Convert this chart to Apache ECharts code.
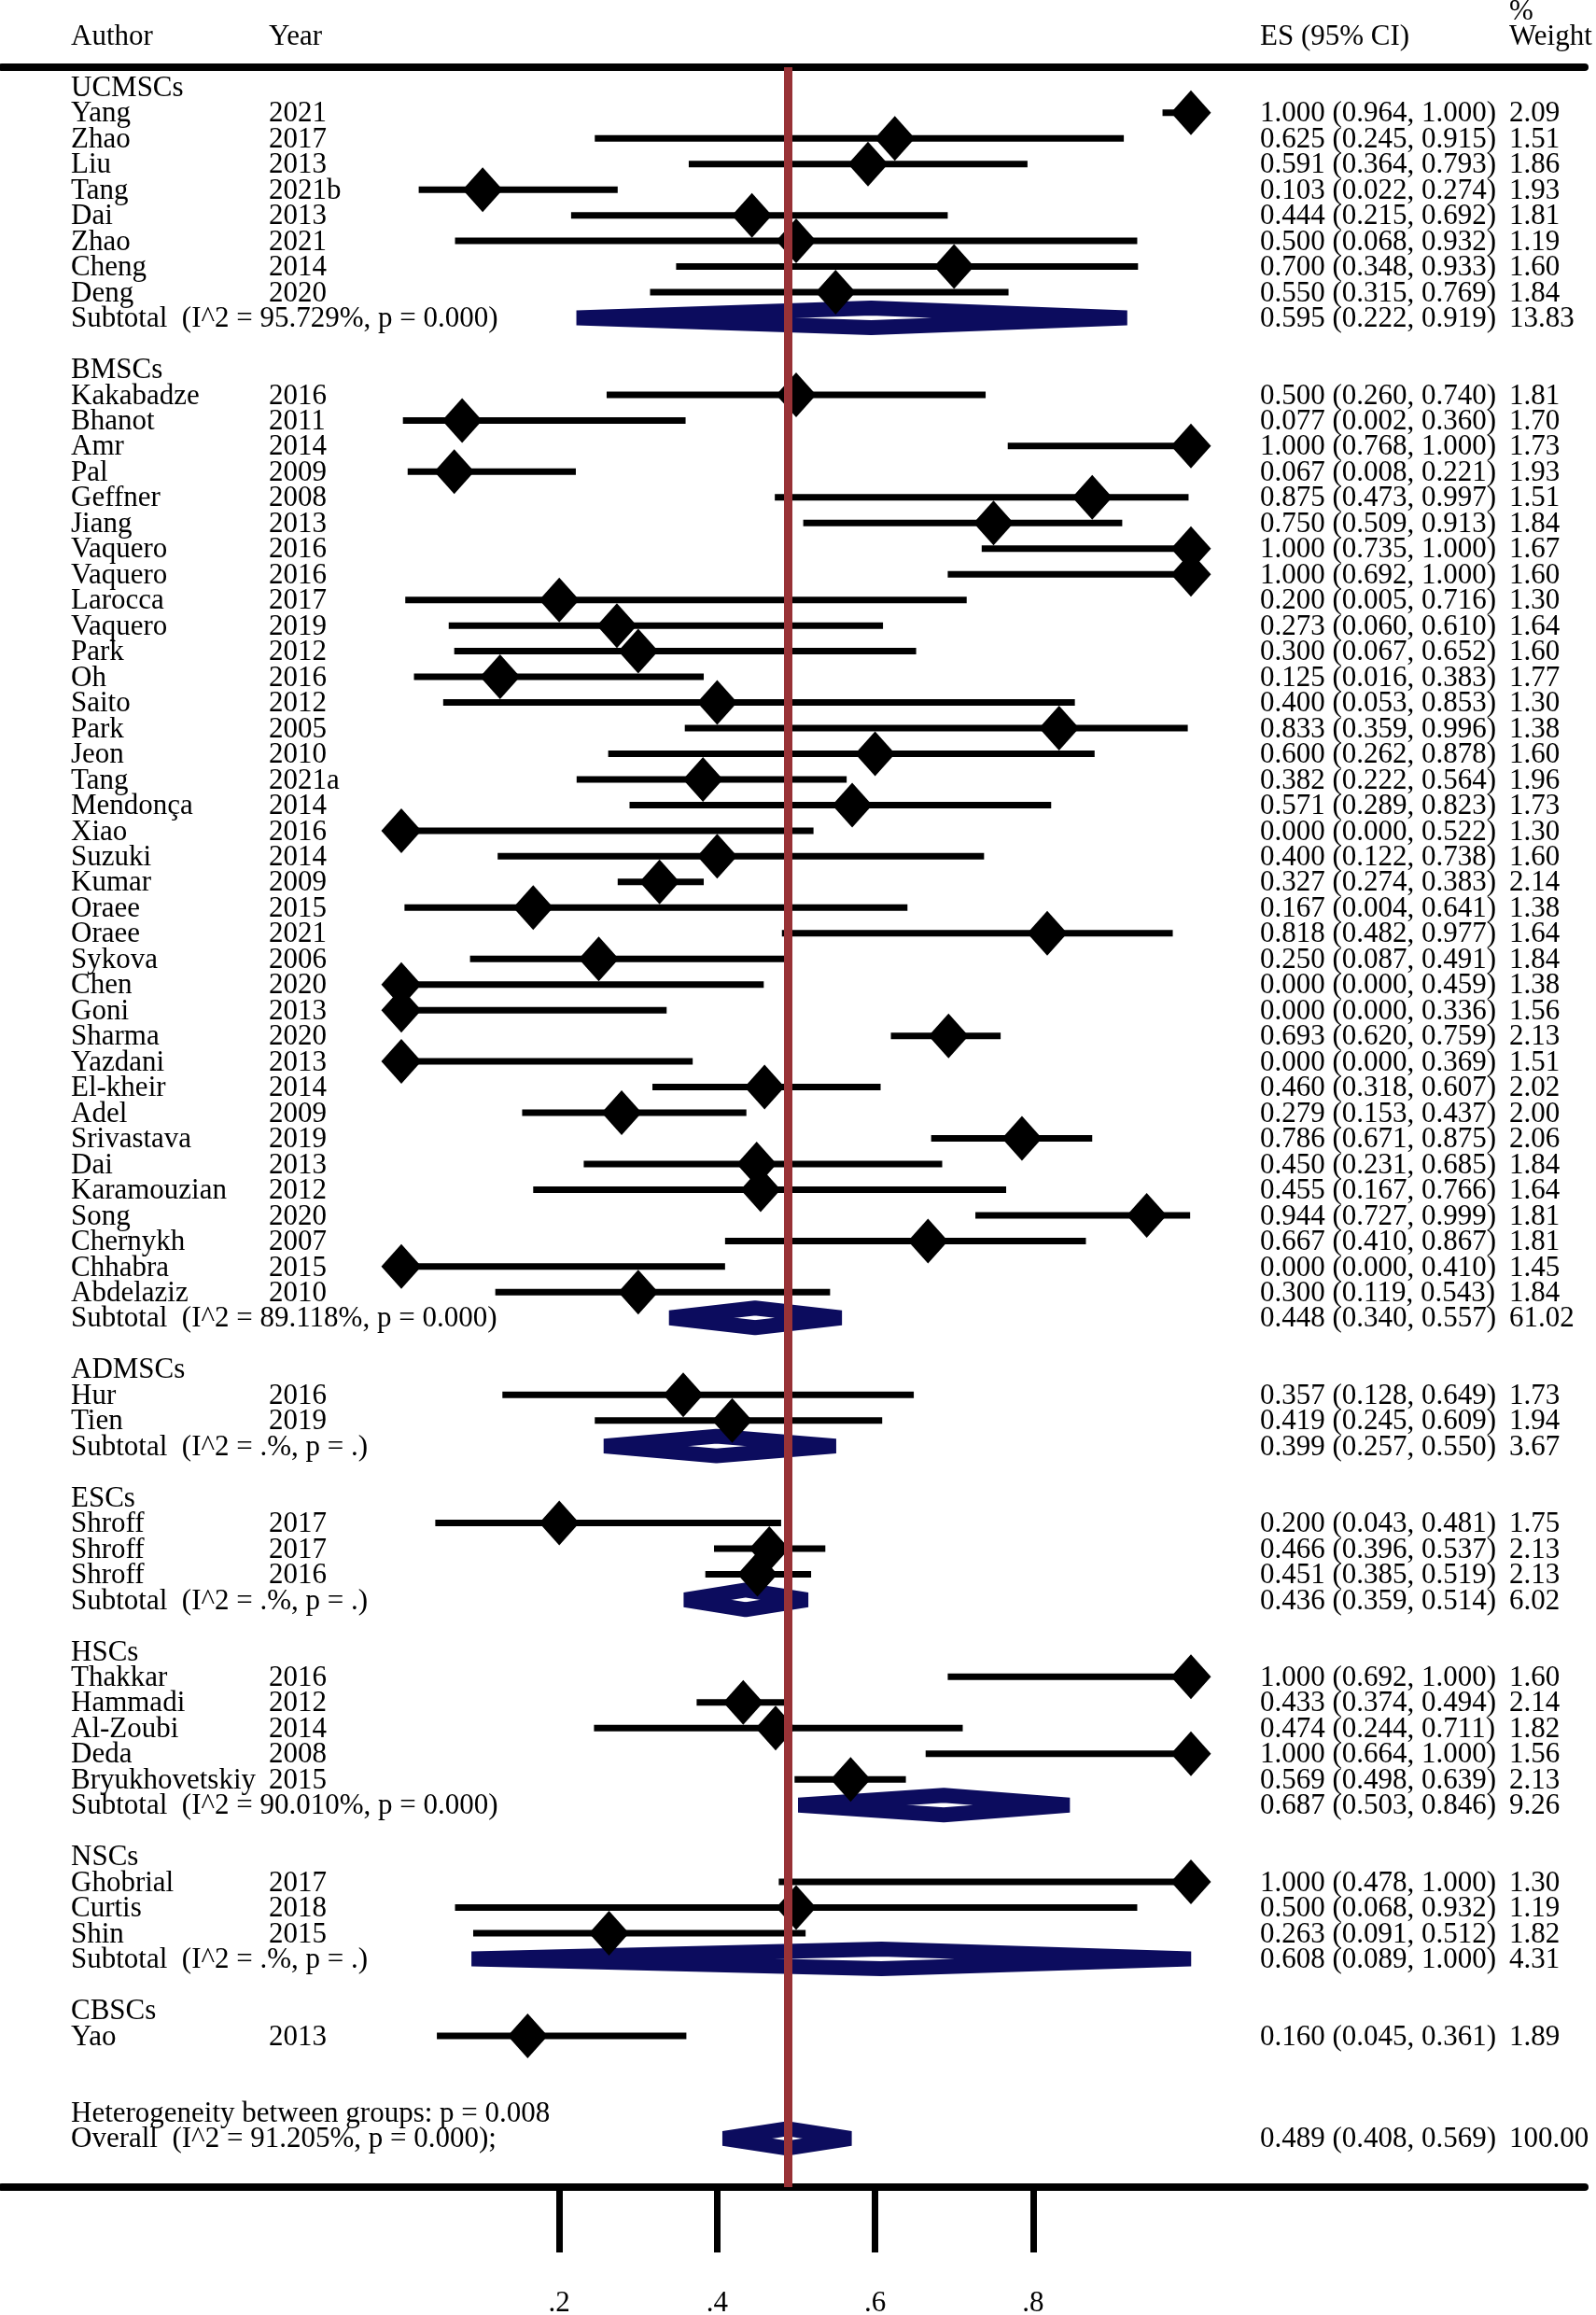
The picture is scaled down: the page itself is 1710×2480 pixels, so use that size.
<!DOCTYPE html>
<html><head><meta charset="utf-8">
<script src="https://cdn.jsdelivr.net/npm/echarts@6/dist/echarts.min.js"></script>
<style>html,body{margin:0;padding:0;background:#fff}#c{width:1710px;height:2480px}</style>
</head><body><div id="c"></div>
<script>
// ---------------- DATA ----------------
const groupNames = ['UCMSCs','BMSCs','ADMSCs','ESCs','HSCs','NSCs','CBSCs'];
const groupSizes = [8,36,2,3,5,3,1];
const authors = [
 'Yang','Zhao','Liu','Tang','Dai','Zhao','Cheng','Deng',
 'Kakabadze','Bhanot','Amr','Pal','Geffner','Jiang','Vaquero','Vaquero','Larocca','Vaquero','Park','Oh','Saito','Park','Jeon','Tang','Mendonça','Xiao','Suzuki','Kumar','Oraee','Oraee','Sykova','Chen','Goni','Sharma','Yazdani','El-kheir','Adel','Srivastava','Dai','Karamouzian','Song','Chernykh','Chhabra','Abdelaziz',
 'Hur','Tien',
 'Shroff','Shroff','Shroff',
 'Thakkar','Hammadi','Al-Zoubi','Deda','Bryukhovetskiy',
 'Ghobrial','Curtis','Shin',
 'Yao'];
const years = [
 '2021','2017','2013','2021b','2013','2021','2014','2020',
 '2016','2011','2014','2009','2008','2013','2016','2016','2017','2019','2012','2016','2012','2005','2010','2021a','2014','2016','2014','2009','2015','2021','2006','2020','2013','2020','2013','2014','2009','2019','2013','2012','2020','2007','2015','2010',
 '2016','2019',
 '2017','2017','2016',
 '2016','2012','2014','2008','2015',
 '2017','2018','2015',
 '2013'];
const es = [
 1.000,0.625,0.591,0.103,0.444,0.500,0.700,0.550,
 0.500,0.077,1.000,0.067,0.875,0.750,1.000,1.000,0.200,0.273,0.300,0.125,0.400,0.833,0.600,0.382,0.571,0.000,0.400,0.327,0.167,0.818,0.250,0.000,0.000,0.693,0.000,0.460,0.279,0.786,0.450,0.455,0.944,0.667,0.000,0.300,
 0.357,0.419,
 0.200,0.466,0.451,
 1.000,0.433,0.474,1.000,0.569,
 1.000,0.500,0.263,
 0.160];
const lo = [
 0.964,0.245,0.364,0.022,0.215,0.068,0.348,0.315,
 0.260,0.002,0.768,0.008,0.473,0.509,0.735,0.692,0.005,0.060,0.067,0.016,0.053,0.359,0.262,0.222,0.289,0.000,0.122,0.274,0.004,0.482,0.087,0.000,0.000,0.620,0.000,0.318,0.153,0.671,0.231,0.167,0.727,0.410,0.000,0.119,
 0.128,0.245,
 0.043,0.396,0.385,
 0.692,0.374,0.244,0.664,0.498,
 0.478,0.068,0.091,
 0.045];
const hi = [
 1.000,0.915,0.793,0.274,0.692,0.932,0.933,0.769,
 0.740,0.360,1.000,0.221,0.997,0.913,1.000,1.000,0.716,0.610,0.652,0.383,0.853,0.996,0.878,0.564,0.823,0.522,0.738,0.383,0.641,0.977,0.491,0.459,0.336,0.759,0.369,0.607,0.437,0.875,0.685,0.766,0.999,0.867,0.410,0.543,
 0.649,0.609,
 0.481,0.537,0.519,
 1.000,0.494,0.711,1.000,0.639,
 1.000,0.932,0.512,
 0.361];
const weights = [
 2.09,1.51,1.86,1.93,1.81,1.19,1.60,1.84,
 1.81,1.70,1.73,1.93,1.51,1.84,1.67,1.60,1.30,1.64,1.60,1.77,1.30,1.38,1.60,1.96,1.73,1.30,1.60,2.14,1.38,1.64,1.84,1.38,1.56,2.13,1.51,2.02,2.00,2.06,1.84,1.64,1.81,1.81,1.45,1.84,
 1.73,1.94,
 1.75,2.13,2.13,
 1.60,2.14,1.82,1.56,2.13,
 1.30,1.19,1.82,
 1.89];
const subES     = [0.595,0.448,0.399,0.436,0.687,0.608,null];
const subLo     = [0.222,0.340,0.257,0.359,0.503,0.089,null];
const subHi     = [0.919,0.557,0.550,0.514,0.846,1.000,null];
const subWeight = [13.83,61.02,3.67,6.02,9.26,4.31,null];
const subI2     = ['95.729%','89.118%','.%','.%','90.010%','.%',null];
const subP      = ['0.000','0.000','.','.','0.000','.',null];
const overallValues = [0.489,0.408,0.569];   // ES, lower, upper
const overallWeight = 100.00;
const overallStats  = ['91.205%','0.000'];   // I^2, p
const heterogeneityP = '0.008';
const headerLabels = ['Author','Year','ES (95% CI)','%','Weight'];
const xTickValues = [0.2,0.4,0.6,0.8];

// ---------------- STYLE ----------------
const FONT = "'Liberation Serif','Times New Roman',serif";
const FS = 31;
const COLS = [76, 288, 1350, 1617];
const TEXT_DY = 1.5;
const NAVY = '#0c0c5e';
const RED = '#983236';

// ---------------- BUILD ROWS ----------------
function fmtCI(e,l,h){ return e.toFixed(3)+' ('+l.toFixed(3)+', '+h.toFixed(3)+')'; }
const studyRows = [], pooledRows = [], textRows = [];
let r = 0, k = 0;
groupNames.forEach((g, gi) => {
  textRows.push({row:r, cells:[g]}); r++;
  for (let j = 0; j < groupSizes[gi]; j++, k++) {
    studyRows.push([lo[k], hi[k], es[k], r]);
    textRows.push({row:r, cells:[authors[k], years[k], fmtCI(es[k],lo[k],hi[k]), weights[k].toFixed(2)]});
    r++;
  }
  if (subES[gi] != null) {
    pooledRows.push([subLo[gi], subES[gi], subHi[gi], r]);
    textRows.push({row:r, cells:['Subtotal  (I^2 = '+subI2[gi]+', p = '+subP[gi]+')', null, fmtCI(subES[gi],subLo[gi],subHi[gi]), subWeight[gi].toFixed(2)]});
    r++;
  }
  r++;
});
const hetRow = r + 1, overallRow = r + 2;
textRows.push({row:hetRow, cells:['Heterogeneity between groups: p = '+heterogeneityP]});
textRows.push({row:overallRow, cells:['Overall  (I^2 = '+overallStats[0]+', p = '+overallStats[1]+');', null, fmtCI(overallValues[0],overallValues[1],overallValues[2]), overallWeight.toFixed(2)]});
pooledRows.push([overallValues[1], overallValues[0], overallValues[2], overallRow]);

// ---------------- CHART ----------------
const chart = echarts.init(document.getElementById('c'), null, {renderer:'canvas'});
const X_MIN = -0.505910, X_MAX = 1.498818;
const hdr = (i, x, y) => ({type:'text', x: x, y: y, style:{text: headerLabels[i], fill:'#000', fontSize: FS, fontFamily: FONT, verticalAlign:'middle'}});
const option = {
  animation: false,
  backgroundColor: '#fff',
  grid: {left: 2, right: 12, top: 72, bottom: 137, containLabel: false, outerBoundsMode: 'none'},
  xAxis: [{
    type: 'value', min: X_MIN, max: X_MAX, position: 'bottom',
    axisLine: {show: true, onZero: false, lineStyle: {color: '#000', width: 8}},
    axisTick: {show: true, customValues: xTickValues, length: 70, lineStyle: {color: '#000', width: 7}},
    axisLabel: {show: true, customValues: xTickValues, margin: 109, color: '#000', fontSize: FS, fontFamily: FONT,
      formatter: v => String(v).replace(/^0/, '')},
    splitLine: {show: false}
  }, {
    type: 'value', min: X_MIN, max: X_MAX, position: 'top',
    axisLine: {show: true, onZero: false, lineStyle: {color: '#000', width: 8}},
    axisTick: {show: false}, axisLabel: {show: false}, splitLine: {show: false}
  }],
  yAxis: {type: 'value', inverse: true, min: -0.775, max: 81.90, show: false, splitLine: {show: false}},
  graphic: [
    hdr(0, COLS[0], 39.5), hdr(1, COLS[1], 39.5), hdr(2, COLS[2], 39.5),
    hdr(3, COLS[3], 12.5), hdr(4, COLS[3], 39.5)
  ],
  series: [
    { // reference line at overall ES
      type: 'line', z: 1, data: [[overallValues[0], overallRow]], symbol: 'none', showSymbol: false,
      lineStyle: {opacity: 0}, silent: true,
      markLine: {silent: true, symbol: ['none','none'], label: {show: false},
        lineStyle: {color: RED, width: 9, type: 'solid', opacity: 1},
        emphasis: {disabled: true},
        data: [{xAxis: overallValues[0]}]}
    },
    { // confidence intervals
      type: 'custom', z: 2, silent: true,
      data: studyRows,
      renderItem: (params, api) => {
        const y = api.value(3);
        const p1 = api.coord([api.value(0), y]);
        const p2 = api.coord([api.value(1), y]);
        return {type:'line', shape:{x1:p1[0], y1:p1[1], x2:p2[0], y2:p2[1]}, style:{stroke:'#000', lineWidth:7}};
      }
    },
    { // pooled diamonds
      type: 'custom', z: 3, silent: true,
      data: pooledRows,
      renderItem: (params, api) => {
        const row = api.value(3);
        const pl = api.coord([api.value(0), row]);
        const pc = api.coord([api.value(1), row]);
        const pr = api.coord([api.value(2), row]);
        const h = 10.5;
        return {type:'polygon', shape:{points:[[pl[0],pl[1]],[pc[0],pc[1]-h],[pr[0],pr[1]],[pc[0],pc[1]+h]]},
          style:{fill:'none', stroke: NAVY, lineWidth: 16, lineJoin: 'bevel'}};
      }
    },
    { // point estimates
      type: 'scatter', z: 4, silent: true,
      data: studyRows.map(s => [s[2], s[3]]),
      symbol: 'diamond', symbolSize: [43, 48],
      itemStyle: {color: '#000', opacity: 1}
    },
    { // text columns
      type: 'custom', z: 5, silent: true, clip: false,
      data: textRows.map(t => [0, t.row]),
      renderItem: (params, api) => {
        const t = textRows[params.dataIndex];
        const y = api.coord([0, t.row])[1] + TEXT_DY;
        const children = [];
        t.cells.forEach((c, i) => {
          if (c == null) return;
          children.push({type:'text', x: COLS[i], y: y,
            style:{text: c, fill:'#000', fontSize: FS, fontFamily: FONT, verticalAlign:'middle', align:'left'}});
        });
        return {type:'group', children};
      }
    }
  ]
};
chart.setOption(option);
</script>
</body></html>
